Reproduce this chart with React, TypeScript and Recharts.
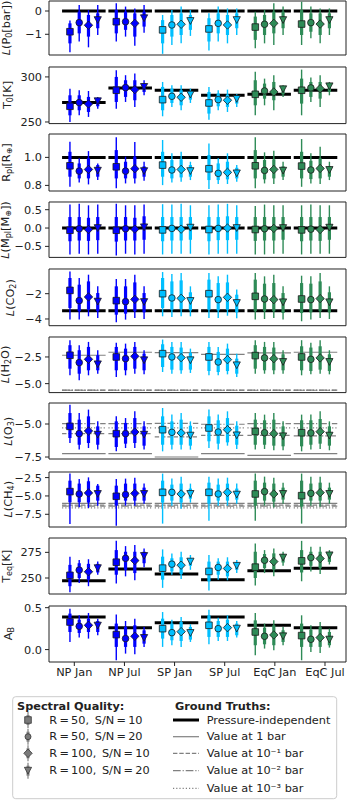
import React from "react";
import { ComposedChart, Scatter, XAxis, YAxis, ErrorBar, ReferenceLine, ReferenceArea } from "recharts";

const GROUPS = ["NP Jan", "NP Jul", "SP Jan", "SP Jul", "EqC Jan", "EqC Jul"];
const GROUP_COLORS = ["#0000ff", "#0000ff", "#00bfff", "#00bfff", "#2e8b57", "#2e8b57"];
const QUALITIES = ["R\u2009=\u200950,\u2002S/N\u2009=\u200910", "R\u2009=\u200950,\u2002S/N\u2009=\u200920", "R\u2009=\u2009100,\u2002S/N\u2009=\u200910", "R\u2009=\u2009100,\u2002S/N\u2009=\u200920"];
const TRUTH_NAMES = ["Pressure-independent", "Value at 1 bar", "Value at 10\u207B\u00B9 bar", "Value at 10\u207B\u00B2 bar", "Value at 10\u207B\u00B3 bar"];

// each tuple: [lo95, lo68, median, hi68, hi95]; groups x qualities
const P0_POST = [
  [[-1.77, -1.39, -0.89, -0.53, -0.41], [-1.31, -0.96, -0.5, -0.03, 0.26], [-1.56, -1.1, -0.61, -0.17, 0.04], [-1.03, -0.74, -0.39, -0.1, 0.26]],
  [[-1.31, -0.96, -0.46, 0.04, 0.33], [-1.1, -0.81, -0.46, -0.03, 0.19], [-1.49, -1.1, -0.53, -0.1, 0.11], [-0.93, -0.67, -0.31, -0.03, 0.26]],
  [[-1.84, -1.39, -0.81, -0.39, -0.17], [-1.46, -1.1, -0.6, -0.17, 0.04], [-1.39, -1.03, -0.57, -0.1, 0.19], [-1.07, -0.81, -0.43, -0.17, 0.04]],
  [[-1.7, -1.31, -0.77, -0.31, -0.1], [-1.31, -0.96, -0.53, -0.1, 0.19], [-1.39, -1.03, -0.6, -0.17, 0.11], [-1.03, -0.74, -0.39, -0.1, 0.11]],
  [[-1.6, -1.24, -0.69, -0.24, -0.03], [-1.39, -1.03, -0.57, -0.17, 0.04], [-1.46, -0.96, -0.53, -0.03, 0.33], [-1.03, -0.74, -0.39, -0.03, 0.19]],
  [[-1.46, -1.03, -0.56, 0.04, 0.4], [-1.17, -0.89, -0.5, -0.1, 0.19], [-1.39, -1.03, -0.56, -0.1, 0.11], [-1.03, -0.74, -0.39, -0.1, 0.11]],
];
const P0_TRUTH = [0, 0, 0, 0, 0, 0];

const T0_POST = [
  [[250, 257.4, 267.4, 279.6, 287], [257.4, 263, 271.5, 279.6, 285.2], [255.6, 261.1, 270, 277.8, 284.4], [264.8, 267.4, 273, 275.9, 277.8]],
  [[264.8, 272.2, 285.2, 300, 307.4], [272.2, 277.8, 288.1, 296.3, 301.9], [266.7, 274.1, 285.9, 296.3, 303.7], [279.6, 283.3, 288.9, 292.6, 296.3]],
  [[256.3, 263, 274.8, 288.9, 294.4], [266.7, 271.1, 278.5, 287, 290.7], [263, 268.5, 277.4, 285.2, 290.7], [271.1, 274.8, 280.4, 284.4, 287]],
  [[252.6, 259.3, 271.1, 283.3, 288.9], [263, 267.4, 274.8, 281.5, 285.2], [261.1, 266.7, 274.1, 280.4, 285.9], [266.7, 270.4, 275.6, 278.9, 280.7]],
  [[257.4, 268.5, 280.7, 296.3, 305.6], [268.5, 275.9, 284.4, 292.6, 298.1], [263, 274.1, 283.3, 294.4, 301.9], [277.8, 280.7, 286.3, 288.9, 290.7]],
  [[257.4, 270.4, 285.2, 298.1, 308.1], [272.2, 277.8, 287.8, 294.4, 299.3], [266.7, 275.9, 287, 294.4, 301.9], [279.6, 283.3, 289.6, 292.6, 294.4]],
];
const T0_TRUTH = [271.5, 287.8, 285.2, 279.6, 280.7, 285.2];

const RPL_POST = [
  [[0.79, 0.862, 0.94, 1.04, 1.112], [0.821, 0.85, 0.902, 0.957, 0.993], [0.807, 0.85, 0.914, 0.993, 1.045], [0.838, 0.862, 0.905, 0.945, 0.957]],
  [[0.779, 0.85, 0.933, 1.052, 1.143], [0.814, 0.85, 0.902, 0.969, 1.005], [0.814, 0.85, 0.919, 1.005, 1.11], [0.833, 0.862, 0.902, 0.936, 0.969]],
  [[0.802, 0.862, 0.945, 1.04, 1.124], [0.821, 0.85, 0.91, 0.981, 1.029], [0.826, 0.857, 0.914, 0.986, 1.04], [0.838, 0.862, 0.902, 0.945, 0.969]],
  [[0.774, 0.838, 0.919, 1.017, 1.1], [0.81, 0.838, 0.886, 0.957, 0.993], [0.81, 0.843, 0.893, 0.969, 1.029], [0.826, 0.85, 0.886, 0.926, 0.945]],
  [[0.779, 0.85, 0.94, 1.052, 1.143], [0.814, 0.843, 0.907, 0.981, 1.036], [0.81, 0.85, 0.914, 0.986, 1.048], [0.838, 0.862, 0.905, 0.936, 0.969]],
  [[0.79, 0.85, 0.938, 1.04, 1.131], [0.814, 0.845, 0.91, 0.976, 1.029], [0.81, 0.85, 0.921, 0.993, 1.076], [0.838, 0.862, 0.91, 0.936, 0.969]],
];
const RPL_TRUTH = [1, 1, 1, 1, 1, 1];

const MPL_POST = [
  [[-0.72, -0.36, -0.06, 0.3, 0.64], [-0.7, -0.34, -0.02, 0.3, 0.66], [-0.72, -0.35, -0.04, 0.28, 0.62], [-0.7, -0.33, 0.0, 0.3, 0.64]],
  [[-0.75, -0.37, -0.06, 0.3, 0.66], [-0.7, -0.34, -0.02, 0.3, 0.62], [-0.72, -0.34, -0.03, 0.28, 0.62], [-0.7, -0.32, 0.02, 0.32, 0.64]],
  [[-0.72, -0.36, -0.05, 0.3, 0.65], [-0.7, -0.34, -0.01, 0.3, 0.64], [-0.7, -0.34, -0.03, 0.3, 0.66], [-0.7, -0.32, 0.01, 0.3, 0.62]],
  [[-0.72, -0.36, -0.04, 0.3, 0.62], [-0.7, -0.33, -0.01, 0.3, 0.64], [-0.7, -0.33, 0.0, 0.32, 0.66], [-0.7, -0.32, 0.0, 0.3, 0.62]],
  [[-0.72, -0.35, -0.04, 0.3, 0.6], [-0.72, -0.34, -0.02, 0.3, 0.64], [-0.7, -0.34, -0.01, 0.3, 0.62], [-0.7, -0.32, 0.0, 0.3, 0.62]],
  [[-0.72, -0.36, -0.05, 0.3, 0.62], [-0.7, -0.34, -0.03, 0.3, 0.64], [-0.7, -0.35, -0.04, 0.3, 0.62], [-0.7, -0.32, 0.01, 0.3, 0.62]],
];
const MPL_TRUTH = [0, 0, 0, 0, 0, 0];

const CO2_POST = [
  [[-4.05, -3.13, -1.74, -0.76, -0.24], [-4.05, -3.39, -2.55, -1.29, -0.76], [-3.79, -3.26, -2.26, -1.03, -0.5], [-3.92, -3.39, -2.63, -1.95, -1.42]],
  [[-4.26, -3.66, -2.55, -1.42, -0.84], [-4.05, -3.58, -2.63, -1.42, -0.84], [-3.92, -3.39, -2.45, -1.11, -0.5], [-4.0, -3.47, -2.66, -1.95, -1.42]],
  [[-3.79, -3.13, -2.0, -0.76, -0.29], [-3.84, -3.26, -2.34, -1.03, -0.45], [-3.79, -3.21, -2.37, -0.95, -0.37], [-3.79, -3.32, -2.58, -1.89, -1.42]],
  [[-3.92, -3.26, -2.0, -0.89, -0.37], [-3.92, -3.32, -2.47, -1.16, -0.63], [-3.74, -3.26, -2.29, -1.11, -0.5], [-3.95, -3.47, -2.74, -2.08, -1.68]],
  [[-4.05, -3.39, -2.21, -0.89, -0.37], [-4.0, -3.39, -2.42, -1.21, -0.63], [-3.92, -3.39, -2.47, -1.16, -0.5], [-4.05, -3.53, -2.68, -1.95, -1.42]],
  [[-4.18, -3.53, -2.42, -1.16, -0.58], [-4.05, -3.47, -2.47, -1.21, -0.63], [-3.92, -3.39, -2.39, -1.03, -0.37], [-4.0, -3.47, -2.68, -1.89, -1.42]],
];
const CO2_TRUTH = [-3.34, -3.34, -3.34, -3.34, -3.34, -3.34];

const H2O_POST = [
  [[-4.22, -3.6, -2.34, -1.4, -0.93], [-4.69, -4.07, -3.03, -1.87, -1.4], [-4.22, -3.75, -2.72, -1.56, -1.09], [-4.07, -3.75, -3.19, -2.34, -1.87]],
  [[-4.38, -3.75, -2.5, -1.56, -1.18], [-4.22, -3.75, -2.66, -1.72, -1.25], [-4.07, -3.6, -2.44, -1.56, -1.09], [-4.13, -3.75, -2.81, -2.19, -1.87]],
  [[-3.91, -3.44, -2.19, -1.31, -0.87], [-4.07, -3.69, -2.5, -1.56, -1.09], [-4.07, -3.75, -2.56, -1.62, -1.09], [-4.0, -3.69, -2.81, -2.12, -1.72]],
  [[-4.22, -3.82, -2.5, -1.56, -1.09], [-4.22, -3.91, -2.97, -2.03, -1.56], [-4.13, -3.82, -2.75, -1.72, -1.25], [-4.38, -4.07, -3.28, -2.66, -2.19]],
  [[-4.07, -3.6, -2.37, -1.4, -0.93], [-4.07, -3.75, -2.59, -1.56, -1.09], [-4.13, -3.75, -2.66, -1.62, -1.09], [-4.07, -3.75, -2.97, -2.25, -1.87]],
  [[-4.22, -3.75, -2.5, -1.5, -0.93], [-4.13, -3.82, -2.72, -1.62, -1.18], [-4.07, -3.69, -2.59, -1.5, -0.93], [-4.13, -3.82, -2.97, -2.25, -1.87]],
];
const H2O_TRUTH_1BAR = [-2.34, -2.06, -2.09, -2.25, -2.12, -2.06];
const H2O_TRUTH_01BAR = [-5.62, -5.62, -5.62, -5.62, -5.62, -5.62];
const H2O_TRUTH_001BAR = [-5.6, -5.6, -5.6, -5.6, -5.6, -5.6];
const H2O_TRUTH_0001BAR = [-5.64, -5.64, -5.64, -5.64, -5.64, -5.64];

const O3_POST = [
  [[-6.44, -6.06, -5.18, -4.17, -3.54], [-6.94, -6.57, -5.73, -4.67, -4.17], [-6.82, -6.44, -5.53, -4.42, -3.91], [-6.94, -6.57, -5.81, -5.18, -4.8]],
  [[-7.07, -6.74, -5.73, -4.8, -4.42], [-6.82, -6.49, -5.73, -4.92, -4.55], [-6.82, -6.44, -5.61, -4.55, -4.04], [-6.94, -6.64, -5.81, -5.18, -4.8]],
  [[-7.07, -6.57, -5.43, -4.42, -3.79], [-6.94, -6.57, -5.63, -4.8, -4.29], [-6.94, -6.57, -5.68, -4.67, -4.17], [-6.94, -6.64, -5.88, -5.13, -4.8]],
  [[-6.82, -6.31, -5.3, -4.42, -3.91], [-6.94, -6.49, -5.61, -4.72, -4.29], [-6.64, -6.39, -5.43, -4.55, -4.04], [-6.89, -6.57, -5.86, -5.13, -4.8]],
  [[-6.94, -6.57, -5.56, -4.67, -4.17], [-6.89, -6.57, -5.66, -4.72, -4.29], [-6.99, -6.64, -5.73, -4.67, -4.17], [-6.99, -6.69, -5.93, -5.18, -4.8]],
  [[-7.07, -6.69, -5.66, -4.72, -4.29], [-6.94, -6.57, -5.68, -4.72, -4.29], [-6.89, -6.49, -5.58, -4.62, -4.04], [-6.99, -6.64, -5.88, -5.18, -4.8]],
];
const O3_TRUTH_1BAR = [-7.25, -7.25, -7.5, -7.25, -7.37, -7.25];
const O3_TRUTH_01BAR = [-5.73, -5.73, -5.98, -5.86, -5.86, -5.9];
const O3_TRUTH_001BAR = [-4.97, -4.97, -4.95, -5.02, -4.97, -4.97];
const O3_TRUTH_0001BAR = [-5.3, -5.3, -5.3, -5.3, -5.3, -5.3];

const CH4_POST = [
  [[-8.81, -5.87, -4.41, -2.92, -1.96], [-6.55, -5.87, -4.73, -3.32, -2.68], [-6.64, -5.91, -4.59, -3.0, -2.47], [-6.32, -5.64, -4.73, -3.6, -3.37]],
  [[-9.05, -6.3, -5.05, -3.6, -2.68], [-6.32, -5.64, -4.82, -3.32, -2.64], [-6.32, -5.64, -4.65, -3.32, -2.51], [-6.05, -5.64, -4.73, -3.87, -3.32]],
  [[-8.77, -5.91, -4.51, -2.92, -1.96], [-6.32, -5.64, -4.51, -3.46, -2.64], [-6.73, -5.91, -4.73, -3.32, -2.37], [-5.91, -5.37, -4.73, -4.0, -3.32]],
  [[-8.37, -6.05, -4.51, -3.19, -2.37], [-6.32, -5.64, -4.73, -3.46, -2.64], [-6.32, -5.64, -4.51, -3.32, -2.51], [-6.05, -5.5, -4.82, -4.0, -3.32]],
  [[-8.37, -6.32, -4.73, -2.92, -1.96], [-6.32, -5.64, -4.41, -3.19, -2.37], [-6.59, -5.78, -4.73, -3.32, -2.51], [-6.05, -5.5, -4.73, -3.87, -3.19]],
  [[-8.77, -6.46, -4.96, -2.92, -1.96], [-6.32, -5.64, -4.65, -3.32, -2.37], [-6.46, -5.64, -4.55, -3.19, -2.37], [-6.05, -5.5, -4.73, -3.87, -3.19]],
];
const CH4_TRUTH_1BAR = [-6.0, -6.0, -6.0, -6.0, -6.0, -6.0];
const CH4_TRUTH_01BAR = [-6.25, -6.25, -6.25, -6.25, -6.25, -6.25];
const CH4_TRUTH_001BAR = [-6.38, -6.38, -6.38, -6.38, -6.38, -6.38];
const CH4_TRUTH_0001BAR = [-6.63, -6.63, -6.63, -6.63, -6.63, -6.63];

const TEQ_POST = [
  [[236.2, 242, 252.6, 262.8, 270.8], [245.2, 250, 257.7, 264.4, 267.6], [242, 248.4, 256.1, 263.8, 268.3], [253.2, 255.4, 259.6, 263.8, 266]],
  [[244.6, 253.2, 265.4, 277.2, 286.2], [251.6, 258, 269.2, 275.6, 281.1], [247.8, 254.8, 267, 275.6, 282.1], [260.6, 264.4, 271.5, 275.6, 278.8]],
  [[240.4, 248.4, 259.6, 270.8, 277.9], [253.2, 256.4, 263.5, 269.2, 274], [249, 253.8, 262.5, 270.2, 275.6], [258, 261.9, 266, 269.2, 272.4]],
  [[237.8, 246.8, 256.4, 266, 272.4], [248.4, 253.2, 260.3, 266, 269.2], [247.8, 251.6, 259.3, 266, 270.2], [254.8, 258, 261.9, 265.1, 267.6]],
  [[242.6, 250, 260.6, 275.6, 283.7], [254.8, 259.6, 267.3, 273.4, 277.2], [251.6, 258, 266, 274, 278.8], [261.9, 265.1, 269.9, 273.4, 275.6]],
  [[246.8, 255.4, 266.7, 277.2, 286.2], [256.4, 261.9, 269.9, 275.6, 280.4], [253.8, 259.6, 268.9, 275.6, 280.4], [263.2, 265.7, 272.1, 274.7, 277.2]],
];
const TEQ_TRUTH = [247.4, 258.7, 253.8, 248.4, 257, 259.6];

const AB_POST = [
  [[0.091, 0.21, 0.329, 0.429, 0.488], [0.143, 0.198, 0.278, 0.357, 0.409], [0.131, 0.21, 0.29, 0.369, 0.437], [0.171, 0.21, 0.286, 0.341, 0.369]],
  [[-0.127, 0.032, 0.179, 0.31, 0.42], [-0.048, 0.032, 0.131, 0.27, 0.341], [-0.056, 0.032, 0.159, 0.29, 0.369], [0.032, 0.071, 0.139, 0.23, 0.27]],
  [[0.032, 0.131, 0.25, 0.369, 0.448], [0.052, 0.111, 0.202, 0.31, 0.357], [0.032, 0.103, 0.214, 0.329, 0.389], [0.091, 0.119, 0.198, 0.27, 0.302]],
  [[0.063, 0.151, 0.29, 0.409, 0.476], [0.103, 0.151, 0.25, 0.341, 0.381], [0.103, 0.151, 0.262, 0.357, 0.409], [0.143, 0.171, 0.25, 0.31, 0.341]],
  [[-0.067, 0.052, 0.21, 0.349, 0.437], [0.012, 0.063, 0.159, 0.262, 0.31], [-0.008, 0.052, 0.175, 0.29, 0.349], [0.052, 0.091, 0.159, 0.23, 0.27]],
  [[-0.127, 0.032, 0.167, 0.31, 0.409], [-0.028, 0.032, 0.123, 0.238, 0.29], [-0.04, 0.032, 0.143, 0.27, 0.329], [0.024, 0.052, 0.119, 0.21, 0.25]],
];
const AB_TRUTH = [0.389, 0.262, 0.321, 0.389, 0.29, 0.262];

// ---------- layout & style ----------
const FONT = "'DejaVu Sans', sans-serif";
const FS = 11.3;
const OFFSETS = [-0.3, -0.1, 0.1, 0.3];
const HALF = 0.47;
const X_DOMAIN = [-0.752, 5.658];
// group-label axis: label k sits at k on a [-0.5046, 5.419] axis spanning the same plot width
const LAB_DOMAIN = [-0.5046, 5.419];
const labToX = (k) => X_DOMAIN[0] + ((k - LAB_DOMAIN[0]) / (LAB_DOMAIN[1] - LAB_DOMAIN[0])) * (X_DOMAIN[1] - X_DOMAIN[0]);
const xToLab = (v) => Math.round(LAB_DOMAIN[0] + ((v - X_DOMAIN[0]) / (X_DOMAIN[1] - X_DOMAIN[0])) * (LAB_DOMAIN[1] - LAB_DOMAIN[0]));
const LABEL_TICKS = GROUPS.map((_, k) => labToX(k));
const INK = "#222";
const GREY = "#808080";
const PAD = 9;

const TRUTH_STYLES = {
  indep: { stroke: "#000", strokeWidth: 3, dash: undefined },
  b1: { stroke: GREY, strokeWidth: 1.2, dash: undefined },
  b01: { stroke: GREY, strokeWidth: 1.2, dash: "4.4 1.9" },
  b001: { stroke: GREY, strokeWidth: 1.2, dash: "7.7 1.9 1.2 1.9" },
  b0001: { stroke: GREY, strokeWidth: 1.2, dash: "1.2 2" },
};

const PANELS = [
  { post: P0_POST, truths: [["indep", P0_TRUTH]], domain: [-1.89, 0.43], ticks: [-1, 0], dec: 0, top: 1, bottom: 55, labelX: 6,
    label: [{ t: "L", it: 1 }, { t: "(P" }, { t: "0", sub: 1 }, { t: "[bar])" }] },
  { post: T0_POST, truths: [["indep", T0_TRUTH]], domain: [248.2, 311], ticks: [250, 300], dec: 0, top: 66.7, bottom: 123.3, labelX: 7,
    label: [{ t: "T" }, { t: "0", sub: 1 }, { t: "[K]" }] },
  { post: RPL_POST, truths: [["indep", RPL_TRUTH]], domain: [0.76, 1.167], ticks: [0.8, 1.0], dec: 1, top: 134, bottom: 191, labelX: 6,
    label: [{ t: "R" }, { t: "pl", sub: 1 }, { t: "[R" }, { t: "\u2295", sub: 1 }, { t: "]" }] },
  { post: MPL_POST, truths: [["indep", MPL_TRUTH]], domain: [-0.8, 0.71], ticks: [-0.5, 0, 0.5], dec: 1, top: 202.3, bottom: 257.7, labelX: 5,
    label: [{ t: "L", it: 1 }, { t: "(M" }, { t: "pl", sub: 1 }, { t: "[M" }, { t: "\u2295", sub: 1 }, { t: "])" }] },
  { post: CO2_POST, truths: [["indep", CO2_TRUTH]], domain: [-4.53, -0.05], ticks: [-4, -2], dec: 0, top: 269.3, bottom: 326, labelX: 10,
    label: [{ t: "L", it: 1 }, { t: "(CO" }, { t: "2", sub: 1 }, { t: ")" }] },
  { post: H2O_POST, truths: [["b1", H2O_TRUTH_1BAR], ["b01", H2O_TRUTH_01BAR], ["b001", H2O_TRUTH_001BAR], ["b0001", H2O_TRUTH_0001BAR]],
    domain: [-5.84, -0.63], ticks: [-5, -2.5], dec: 1, top: 336.7, bottom: 392.3, labelX: 5,
    label: [{ t: "L", it: 1 }, { t: "(H" }, { t: "2", sub: 1 }, { t: "O)" }] },
  { post: O3_POST, truths: [["b1", O3_TRUTH_1BAR], ["b01", O3_TRUTH_01BAR], ["b001", O3_TRUTH_001BAR], ["b0001", O3_TRUTH_0001BAR]],
    domain: [-7.65, -3.41], ticks: [-7.5, -5], dec: 1, top: 403.3, bottom: 459.3, labelX: 8,
    label: [{ t: "L", it: 1 }, { t: "(O" }, { t: "3", sub: 1 }, { t: ")" }] },
  { post: CH4_POST, truths: [["b1", CH4_TRUTH_1BAR], ["b01", CH4_TRUTH_01BAR], ["b001", CH4_TRUTH_001BAR], ["b0001", CH4_TRUTH_0001BAR]],
    domain: [-9.23, -1.74], ticks: [-7.5, -5, -2.5], dec: 1, top: 471.7, bottom: 526.7, labelX: 8,
    label: [{ t: "L", it: 1 }, { t: "(CH" }, { t: "4", sub: 1 }, { t: ")" }] },
  { post: TEQ_POST, truths: [["indep", TEQ_TRUTH]], domain: [234.4, 289], ticks: [250, 275], dec: 0, top: 538.3, bottom: 594.3, labelX: 6,
    label: [{ t: "T" }, { t: "eq", sub: 1 }, { t: "[K]" }] },
  { post: AB_POST, truths: [["indep", AB_TRUTH]], domain: [-0.148, 0.52], ticks: [0, 0.5], dec: 1, top: 605.7, bottom: 661.7, labelX: 8,
    label: [{ t: "A" }, { t: "B", sub: 1 }] },
];

const fmt = (dec) => (v) => Number(v).toFixed(dec).replace("-", "\u2212");

function rowsFor(post, g) {
  return post[g].map((t, q) => ({
    x: g + OFFSETS[q],
    y: t[2],
    e95: [t[2] - t[0], t[4] - t[2]],
    e68: [t[2] - t[1], t[3] - t[2]],
    q,
    color: GROUP_COLORS[g],
  }));
}

function markerPath(q, cx, cy) {
  if (q === 0) { const s = 3.3; return `M${cx - s},${cy - s}h${2 * s}v${2 * s}h${-2 * s}Z`; }
  if (q === 2) { const s = 4.2; return `M${cx},${cy - s}L${cx + s},${cy}L${cx},${cy + s}L${cx - s},${cy}Z`; }
  if (q === 3) { const w = 3.6, h = 3.4; return `M${cx - w},${cy - h}L${cx + w},${cy - h}L${cx},${cy + h}Z`; }
  return null;
}

function Marker(props) {
  const { cx, cy, payload } = props;
  if (cx == null || cy == null) return null;
  const fill = payload.color;
  const stroke = "#1a1a1a";
  if (payload.q === 1) return <circle cx={cx} cy={cy} r={3.3} fill={fill} stroke={stroke} strokeWidth={0.8} />;
  return <path d={markerPath(payload.q, cx, cy)} fill={fill} stroke={stroke} strokeWidth={0.8} />;
}

function Panel({ p, last }) {
  const axisH = last ? 22 : 0;
  const h = p.bottom - p.top + 2 * PAD + axisH;
  return (
    <div style={{ position: "absolute", left: 0, top: p.top - PAD, width: 350, height: h }}>
      <ComposedChart width={350} height={h} margin={{ top: PAD, right: 4, bottom: PAD, left: 0 }}>
        {last ? (
          <XAxis xAxisId="main" type="number" dataKey="x" domain={X_DOMAIN} allowDataOverflow ticks={LABEL_TICKS}
            interval={0} tickFormatter={(v) => GROUPS[xToLab(v)]} height={axisH} axisLine={false}
            tickSize={4} tickMargin={2} tickLine={{ stroke: INK }}
            tick={{ fill: INK, fontSize: FS, fontFamily: FONT }} />
        ) : (
          <XAxis xAxisId="main" type="number" dataKey="x" domain={X_DOMAIN} allowDataOverflow hide />
        )}
        <YAxis type="number" dataKey="y" domain={p.domain} allowDataOverflow ticks={p.ticks} interval={0}
          tickFormatter={fmt(p.dec)} width={49} axisLine={false} tickSize={4} tickMargin={3}
          tickLine={{ stroke: INK }} tick={{ fill: INK, fontSize: FS, fontFamily: FONT }} />
        <ReferenceArea xAxisId="main" x1={X_DOMAIN[0]} x2={X_DOMAIN[1]} y1={p.domain[0]} y2={p.domain[1]}
          fill="none" stroke={INK} strokeWidth={1} ifOverflow="visible" />
        {p.truths.map(([kind, vals]) =>
          vals.map((v, g) => {
            const st = TRUTH_STYLES[kind];
            return (
              <ReferenceLine key={`${kind}-${g}`} xAxisId="main"
                segment={[{ x: g - HALF, y: v }, { x: g + HALF, y: v }]}
                stroke={st.stroke} strokeWidth={st.strokeWidth} strokeDasharray={st.dash} ifOverflow="visible" />
            );
          })
        )}
        {GROUPS.map((name, g) => (
          <Scatter key={name} xAxisId="main" name={name} data={rowsFor(p.post, g)} dataKey="y" shape={Marker} isAnimationActive={false}>
            <ErrorBar dataKey="e95" direction="y" width={0} stroke={GROUP_COLORS[g]} strokeWidth={1.4} isAnimationActive={false} />
            <ErrorBar dataKey="e68" direction="y" width={0} stroke={GROUP_COLORS[g]} strokeWidth={3.2} isAnimationActive={false} />
          </Scatter>
        ))}
      </ComposedChart>
    </div>
  );
}

function LabelText({ segs }) {
  let prevSub = false;
  return segs.map((s, i) => {
    const sub = !!s.sub;
    const dy = sub && !prevSub ? 3 : !sub && prevSub ? -3 : 0;
    prevSub = sub;
    return (
      <tspan key={i} dy={dy} fontSize={sub ? 8 : FS} fontStyle={s.it ? "italic" : "normal"}>{s.t}</tspan>
    );
  });
}

function LegendMarker({ q, x, y }) {
  const fill = "#7a7a7a";
  return (
    <g>
      <line x1={x} x2={x} y1={y - 8} y2={y + 8} stroke={GREY} strokeWidth={1.2} />
      <line x1={x} x2={x} y1={y - 5} y2={y + 5} stroke={GREY} strokeWidth={3} />
      {q === 1 ? (
        <circle cx={x} cy={y} r={3} fill={fill} stroke="#333" strokeWidth={0.8} />
      ) : (
        <path d={markerPath(q, x, y)} fill={fill} stroke="#333" strokeWidth={0.8} />
      )}
    </g>
  );
}

const LEG_ROWS = [720, 736.7, 753.3, 770.7, 788.3];
const TRUTH_KINDS = ["indep", "b1", "b01", "b001", "b0001"];

export default function App() {
  return (
    <div style={{ position: "absolute", left: 0, top: 0, width: 350, height: 800, background: "#fff", fontFamily: FONT, overflow: "hidden" }}>
      {PANELS.map((p, i) => (
        <Panel key={i} p={p} last={i === PANELS.length - 1} />
      ))}
      <svg width={350} height={800} style={{ position: "absolute", left: 0, top: 0, pointerEvents: "none" }}>
        {PANELS.map((p, i) => {
          const cy = (p.top + p.bottom) / 2;
          return (
            <text key={i} x={p.labelX} y={cy} transform={`rotate(-90 ${p.labelX} ${cy})`} textAnchor="middle"
              dominantBaseline="central" fill={INK} fontFamily={FONT} fontSize={FS}>
              <LabelText segs={p.label} />
            </text>
          );
        })}
        <rect x={12.7} y={696.7} width={324} height={102} rx={3} fill="#fff" stroke="#cccccc" strokeWidth={1} />
        <text x={17} y={706} dominantBaseline="central" fontFamily={FONT} fontSize={FS} fontWeight="bold" fill={INK}>Spectral Quality:</text>
        <text x={175} y={706} dominantBaseline="central" fontFamily={FONT} fontSize={FS} fontWeight="bold" fill={INK}>Ground Truths:</text>
        {QUALITIES.map((qname, q) => (
          <g key={qname}>
            <LegendMarker q={q} x={28} y={LEG_ROWS[q]} />
            <text x={49.3} y={LEG_ROWS[q]} dominantBaseline="central" fontFamily={FONT} fontSize={FS} fill={INK}>{qname}</text>
          </g>
        ))}
        {TRUTH_NAMES.map((tname, k) => {
          const st = TRUTH_STYLES[TRUTH_KINDS[k]];
          return (
            <g key={tname}>
              <line x1={173} x2={199} y1={LEG_ROWS[k]} y2={LEG_ROWS[k]} stroke={st.stroke} strokeWidth={st.strokeWidth} strokeDasharray={st.dash} />
              <text x={206.7} y={LEG_ROWS[k]} dominantBaseline="central" fontFamily={FONT} fontSize={FS} fill={INK}>{tname}</text>
            </g>
          );
        })}
      </svg>
    </div>
  );
}
